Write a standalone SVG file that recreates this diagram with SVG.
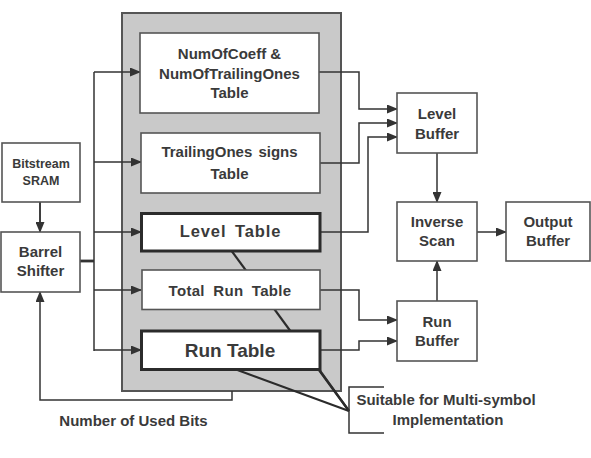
<svg xmlns="http://www.w3.org/2000/svg" width="591" height="458" viewBox="0 0 591 458">
<defs>
<marker id="ah" markerWidth="11" markerHeight="9" refX="10" refY="4.5" orient="auto" markerUnits="userSpaceOnUse">
<path d="M0,0 L11,4.5 L0,9 Z" fill="#333"/>
</marker>
</defs>
<style>
.box{fill:#fff;stroke:#555;stroke-width:1.6}
.thick{fill:#fff;stroke:#2b2b2b;stroke-width:3}
.panel{fill:#c9c9c9;stroke:#555;stroke-width:2}
.ln{fill:none;stroke:#333;stroke-width:1.5}
.arr{fill:none;stroke:#333;stroke-width:1.5;marker-end:url(#ah)}
.diag{fill:none;stroke:#2b2b2b;stroke-width:2.2}
text{font-family:"Liberation Sans",Arial,sans-serif;font-weight:bold;fill:#3a3a3a;text-anchor:middle}
.t15{font-size:15px}
.t12{font-size:12.5px}
</style>
<rect width="591" height="458" fill="#fff"/>
<g id="panel"><rect class="panel" x="122" y="13" width="219" height="378"/></g>
<g id="connectors">
<line class="diag" x1="228" y1="246" x2="349" y2="411"/>
<line class="diag" x1="232" y1="368" x2="349" y2="411"/>
<line class="diag" x1="318" y1="368" x2="349" y2="411"/>
<path class="ln" d="M40,202 V222"/>
<path class="arr" d="M40,202 V232"/>
<path d="M80,261 H94" fill="none" stroke="#333" stroke-width="2.8"/>
<path class="ln" d="M94,72 V351"/>
<path class="arr" d="M94,72 H140"/>
<path class="arr" d="M94,162 H141"/>
<path class="arr" d="M94,232 H141"/>
<path class="arr" d="M94,290 H141"/>
<path class="arr" d="M94,350 H141"/>
<path class="arr" d="M232,391 V400 H40 V292"/>
<path class="arr" d="M319,72 H359 V109 H397"/>
<path class="arr" d="M320,163 H359 V123 H397"/>
<path class="arr" d="M320,232 H368 V137 H397"/>
<path class="arr" d="M320,290 H359 V320 H397"/>
<path class="arr" d="M320,350 H359 V341 H397"/>
<path class="arr" d="M437,153 V202"/>
<path class="arr" d="M437,301 V261"/>
<path class="arr" d="M477,232 H506"/>
<path class="ln" d="M384,387 H349 V433 H384"/>
</g>
<g id="numofcoeff"><rect class="box" x="140" y="33" width="179" height="80"/>
<text class="t15" x="229.5" y="59">NumOfCoeff &amp;</text>
<text class="t15" x="229.5" y="78.5">NumOfTrailingOnes</text>
<text class="t15" x="229.5" y="98">Table</text></g>
<g id="trailingones"><rect class="box" x="141" y="133" width="179" height="60"/>
<text class="t15" x="229.5" y="157" word-spacing="2">TrailingOnes signs</text>
<text class="t15" x="229.5" y="178.5">Table</text></g>
<g id="leveltable"><rect class="thick" x="141.5" y="213.5" width="178.5" height="37.5"/>
<text x="230.5" y="237" style="font-size:16.5px" letter-spacing="0.9" word-spacing="3">Level Table</text></g>
<g id="totalrun"><rect class="box" x="142" y="270" width="178" height="39.5"/>
<text class="t15" x="230" y="296" word-spacing="4" letter-spacing="0.3">Total Run Table</text></g>
<g id="runtable"><rect class="thick" x="141.5" y="331" width="178.5" height="38.5"/>
<text x="230" y="357" style="font-size:19px">Run Table</text></g>
<g id="bitstream"><rect class="box" x="2" y="143" width="78" height="59"/>
<text class="t12" x="41" y="167.5">Bitstream</text>
<text class="t12" x="41" y="185">SRAM</text></g>
<g id="barrel"><rect class="box" x="1" y="232" width="79" height="60"/>
<text class="t15" x="40.5" y="257">Barrel</text>
<text class="t15" x="40.5" y="276">Shifter</text></g>
<g id="levelbuffer"><rect class="box" x="397" y="93" width="80" height="60"/>
<text class="t15" x="437" y="119">Level</text>
<text class="t15" x="437" y="138.5">Buffer</text></g>
<g id="inversescan"><rect class="box" x="397" y="202" width="80" height="59"/>
<text class="t15" x="437" y="227">Inverse</text>
<text class="t15" x="437" y="246">Scan</text></g>
<g id="outputbuffer"><rect class="box" x="506" y="202" width="84" height="59"/>
<text class="t15" x="548" y="227">Output</text>
<text class="t15" x="548" y="246">Buffer</text></g>
<g id="runbuffer"><rect class="box" x="397" y="301" width="80" height="60"/>
<text class="t15" x="437" y="326.5">Run</text>
<text class="t15" x="437" y="346">Buffer</text></g>
<g id="labels">
<text class="t15" x="133.5" y="426">Number of Used Bits</text>
<text class="t15" x="446" y="405">Suitable for Multi-symbol</text>
<text class="t15" x="448" y="425">Implementation</text>
</g>
</svg>
